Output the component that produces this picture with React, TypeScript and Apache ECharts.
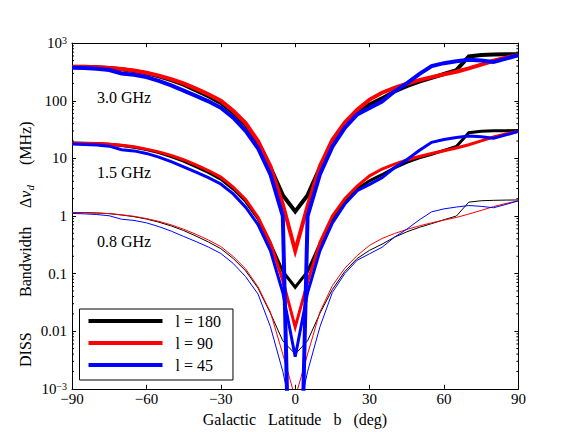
import React, { useEffect, useRef } from 'react';
import * as echarts from 'echarts';

const LATITUDES = [-90, -85, -80, -75, -70, -65, -60, -55, -50, -45, -40, -35, -30, -25, -20, -15, -10, -5, 0,
  5, 10, 15, 20, 25, 30, 35, 40, 45, 50, 55, 60, 65, 70, 75, 80, 85, 90];

// l = 180 (black)
const BLACK_30 = [390, 389, 384, 372, 352, 330, 300, 265, 228, 190, 152, 120, 92, 62, 38, 19, 7, 2.3, 1.2,
  2.3, 7, 18, 37, 62, 86, 110, 145, 180, 215, 250, 292, 340, 590, 625, 635, 640, 645];
const BLACK_15 = [18.5, 18.4, 18.2, 17.6, 16.7, 15.6, 14.2, 12.6, 10.8, 9.0, 7.2, 5.69, 4.36, 2.94, 1.80, 0.90, 0.332, 0.109, 0.058,
  0.109, 0.332, 0.853, 1.75, 2.94, 4.08, 5.21, 6.87, 8.53, 10.2, 11.8, 13.8, 16.1, 28.0, 29.6, 30.1, 30.3, 30.6];
const BLACK_08 = [1.15, 1.15, 1.13, 1.10, 1.04, 0.973, 0.885, 0.782, 0.673, 0.560, 0.448, 0.354, 0.271, 0.183, 0.112, 0.056, 0.0206, 0.0068, 0.0040,
  0.0068, 0.0206, 0.0531, 0.109, 0.183, 0.254, 0.324, 0.428, 0.531, 0.634, 0.737, 0.861, 1.00, 1.74, 1.84, 1.87, 1.89, 1.90];

// l = 90 (red)
const RED_30 = [386, 385, 381, 372, 356, 335, 306, 274, 238, 200, 163, 130, 100, 67, 41, 20, 7.3, 1.6, 0.25,
  1.5, 7.4, 21, 42, 70, 105, 138, 168, 198, 228, 258, 288, 320, 365, 425, 495, 560, 625];
const RED_15 = [18.3, 18.2, 18.1, 17.6, 16.9, 15.9, 14.5, 13.0, 11.3, 9.48, 7.73, 6.16, 4.74, 3.18, 1.94, 0.948, 0.346, 0.0758, 0.0118,
  0.0711, 0.351, 0.995, 1.99, 3.32, 4.98, 6.54, 7.96, 9.38, 10.8, 12.2, 13.6, 15.2, 17.3, 20.1, 23.5, 26.5, 29.6];
const RED_08 = [1.14, 1.14, 1.12, 1.10, 1.05, 0.988, 0.903, 0.808, 0.702, 0.590, 0.481, 0.383, 0.295, 0.198, 0.121, 0.059, 0.0215, 0.0040, 0.0007,
  0.0040, 0.0218, 0.0619, 0.124, 0.206, 0.310, 0.407, 0.496, 0.584, 0.673, 0.761, 0.850, 0.944, 1.08, 1.25, 1.46, 1.65, 1.84];

// l = 45 (blue)
const BLUE_30 = [375, 370, 360, 343, 298, 284, 258, 222, 185, 150, 122, 98, 76, 51, 30, 15, 5.3, 1.0, 1e-9,
  1.0, 5.3, 16, 34, 58, 75, 97, 145, 200, 290, 400, 450, 485, 515, 500, 470, 540, 620];
const BLUE_15 = [17.8, 17.5, 17.1, 16.3, 14.1, 13.5, 12.2, 10.5, 8.77, 7.11, 5.78, 4.64, 3.60, 2.42, 1.42, 0.711, 0.251, 0.047, 0.0036,
  0.047, 0.251, 0.758, 1.61, 2.75, 3.55, 4.60, 6.87, 9.48, 13.7, 19.0, 21.3, 23.0, 24.4, 23.7, 22.3, 25.6, 29.4];
const BLUE_08 = [1.11, 1.09, 1.06, 1.01, 0.879, 0.838, 0.761, 0.655, 0.546, 0.442, 0.360, 0.289, 0.224, 0.150, 0.0885, 0.0442, 0.012, 0.002, 0.0002,
  0.002, 0.012, 0.0472, 0.100, 0.171, 0.221, 0.286, 0.428, 0.590, 0.855, 1.18, 1.33, 1.43, 1.52, 1.47, 1.39, 1.59, 1.83];

const LEGEND_NAMES = ['l = 180', 'l = 90', 'l = 45'];
const FREQ_LABELS = ['3.0 GHz', '1.5 GHz', '0.8 GHz'];
const Y_TICK_LABELS = ['{b|10}{s|−3}', '0.01', '0.1', '1', '10', '100', '{b|10}{s|3}'];
const MINOR_MULTIPLIERS = [2, 3, 4, 5, 6, 7, 8, 9];
const DECADES = [-3, -2, -1, 0, 1, 2];

const FONT = "'Liberation Serif', 'DejaVu Serif', serif";

export default function App() {
  const ref = useRef<HTMLDivElement>(null);
  useEffect(() => {
    if (!ref.current) return;
    const chart = echarts.init(ref.current, undefined, { renderer: 'svg' });

    const groups = [
      { name: LEGEND_NAMES[0], color: '#000000', sets: [BLACK_30, BLACK_15, BLACK_08] },
      { name: LEGEND_NAMES[1], color: '#ff0000', sets: [RED_30, RED_15, RED_08] },
      { name: LEGEND_NAMES[2], color: '#0000ff', sets: [BLUE_30, BLUE_15, BLUE_08] },
    ];
    const widths = [4, 3, 1];
    const lineSeries: any[] = [];
    groups.forEach((g) => {
      g.sets.forEach((vals, k) => {
        lineSeries.push({
          type: 'line',
          name: g.name,
          xAxisIndex: 0,
          yAxisIndex: 0,
          data: LATITUDES.map((b, i) => [b, vals[i]]),
          showSymbol: false,
          symbol: 'none',
          color: g.color,
          lineStyle: { color: g.color, width: widths[k], join: 'miter' },
          clip: true,
          silent: true,
        });
      });
    });

    const minorTicks: number[][] = [];
    DECADES.forEach((d) => MINOR_MULTIPLIERS.forEach((m) => minorTicks.push([-90, m * Math.pow(10, d)])));

    const tickSeries = {
      type: 'custom',
      xAxisIndex: 0,
      yAxisIndex: 0,
      silent: true,
      clip: false,
      data: minorTicks,
      encode: { x: 0, y: 1 },
      renderItem: (_p: any, api: any) => {
        const v = api.value(1);
        const a = api.coord([-90, v]);
        const b = api.coord([90, v]);
        return {
          type: 'group',
          children: [
            { type: 'line', shape: { x1: a[0], y1: a[1], x2: a[0] + 2, y2: a[1] }, style: { stroke: '#000', lineWidth: 1 } },
            { type: 'line', shape: { x1: b[0] - 2, y1: b[1], x2: b[0], y2: b[1] }, style: { stroke: '#000', lineWidth: 1 } },
          ],
        };
      },
    };

    const axisLine = { show: true, onZero: false, lineStyle: { color: '#000', width: 1 } };
    const tick = { show: true, inside: true, length: 4, lineStyle: { color: '#000', width: 1 } };
    const titleStyle = { fontFamily: FONT, fontSize: 16, fill: '#000', align: 'left', verticalAlign: 'middle' };

    chart.setOption({
      animation: false,
      backgroundColor: '#ffffff',
      grid: { left: 72, right: 57.6, top: 43.2, bottom: 43.2, containLabel: false },
      legend: {
        data: LEGEND_NAMES,
        orient: 'vertical',
        left: 79.5,
        top: 309,
        itemWidth: 74,
        itemHeight: 4,
        itemGap: 4,
        icon: 'rect',
        padding: [3, 12, 6, 9],
        borderColor: '#000',
        borderWidth: 1,
        backgroundColor: '#fff',
        selectedMode: false,
        textStyle: { fontFamily: FONT, fontSize: 16, color: '#000', lineHeight: 18, padding: [0, 0, 0, 8] },
      },
      xAxis: [
        {
          type: 'value', min: -90, max: 90, interval: 30, position: 'bottom',
          axisLine, axisTick: tick, splitLine: { show: false },
          axisLabel: {
            margin: 3, color: '#000', fontFamily: FONT, fontSize: 15,
            formatter: (v: number) => (v < 0 ? '−' + Math.abs(v) : String(v)),
          },
        },
        {
          type: 'value', min: -90, max: 90, interval: 30, position: 'top',
          axisLine, axisTick: tick, splitLine: { show: false }, axisLabel: { show: false },
        },
      ],
      yAxis: [
        {
          type: 'log', logBase: 10, min: 0.001, max: 1000, position: 'left',
          axisLine, axisTick: tick, splitLine: { show: false },
          axisLabel: {
            margin: 5, color: '#000', fontFamily: FONT, fontSize: 15,
            formatter: (v: number) => Y_TICK_LABELS[Math.round(Math.log10(v)) + 3],
            rich: {
              b: { fontFamily: FONT, fontSize: 15, color: '#000' },
              s: { fontFamily: FONT, fontSize: 10, color: '#000', verticalAlign: 'top', padding: [0, 0, 5, 0] },
            },
          },
        },
        {
          type: 'log', logBase: 10, min: 0.001, max: 1000, position: 'right',
          axisLine, axisTick: tick, splitLine: { show: false }, axisLabel: { show: false },
        },
      ],
      graphic: [
        { type: 'text', x: 97, y: 97, style: { ...titleStyle, text: FREQ_LABELS[0] } },
        { type: 'text', x: 97, y: 172, style: { ...titleStyle, text: FREQ_LABELS[1] } },
        { type: 'text', x: 97, y: 241, style: { ...titleStyle, text: FREQ_LABELS[2] } },
        {
          type: 'text', x: 295, y: 419,
          style: { ...titleStyle, text: 'Galactic   Latitude   b   (deg)', align: 'center' },
        },
        {
          type: 'group', x: 25, y: 367, rotation: Math.PI / 2,
          children: [
            { type: 'text', x: 0, y: 0, style: { ...titleStyle, text: 'DISS' } },
            { type: 'text', x: 70, y: 0, style: { ...titleStyle, text: 'Bandwidth' } },
            {
              type: 'text', x: 159, y: 0,
              style: {
                ...titleStyle,
                text: '{n|Δ}{i|ν}{d|d}',
                rich: {
                  n: { fontFamily: FONT, fontSize: 16, fill: '#000', lineHeight: 20 },
                  i: { fontFamily: FONT, fontSize: 16, fill: '#000', fontStyle: 'italic', lineHeight: 20 },
                  d: { fontFamily: FONT, fontSize: 11, fill: '#000', fontStyle: 'italic', verticalAlign: 'bottom', lineHeight: 14 },
                },
              },
            },
            { type: 'text', x: 202, y: 0, style: { ...titleStyle, text: '(MHz)' } },
          ],
        },
      ],
      series: [...lineSeries, tickSeries],
    });

    return () => chart.dispose();
  }, []);

  return (
    <div
      ref={ref}
      style={{ position: 'fixed', left: 0, top: 0, width: 576, height: 432, background: '#fff' }}
    />
  );
}
